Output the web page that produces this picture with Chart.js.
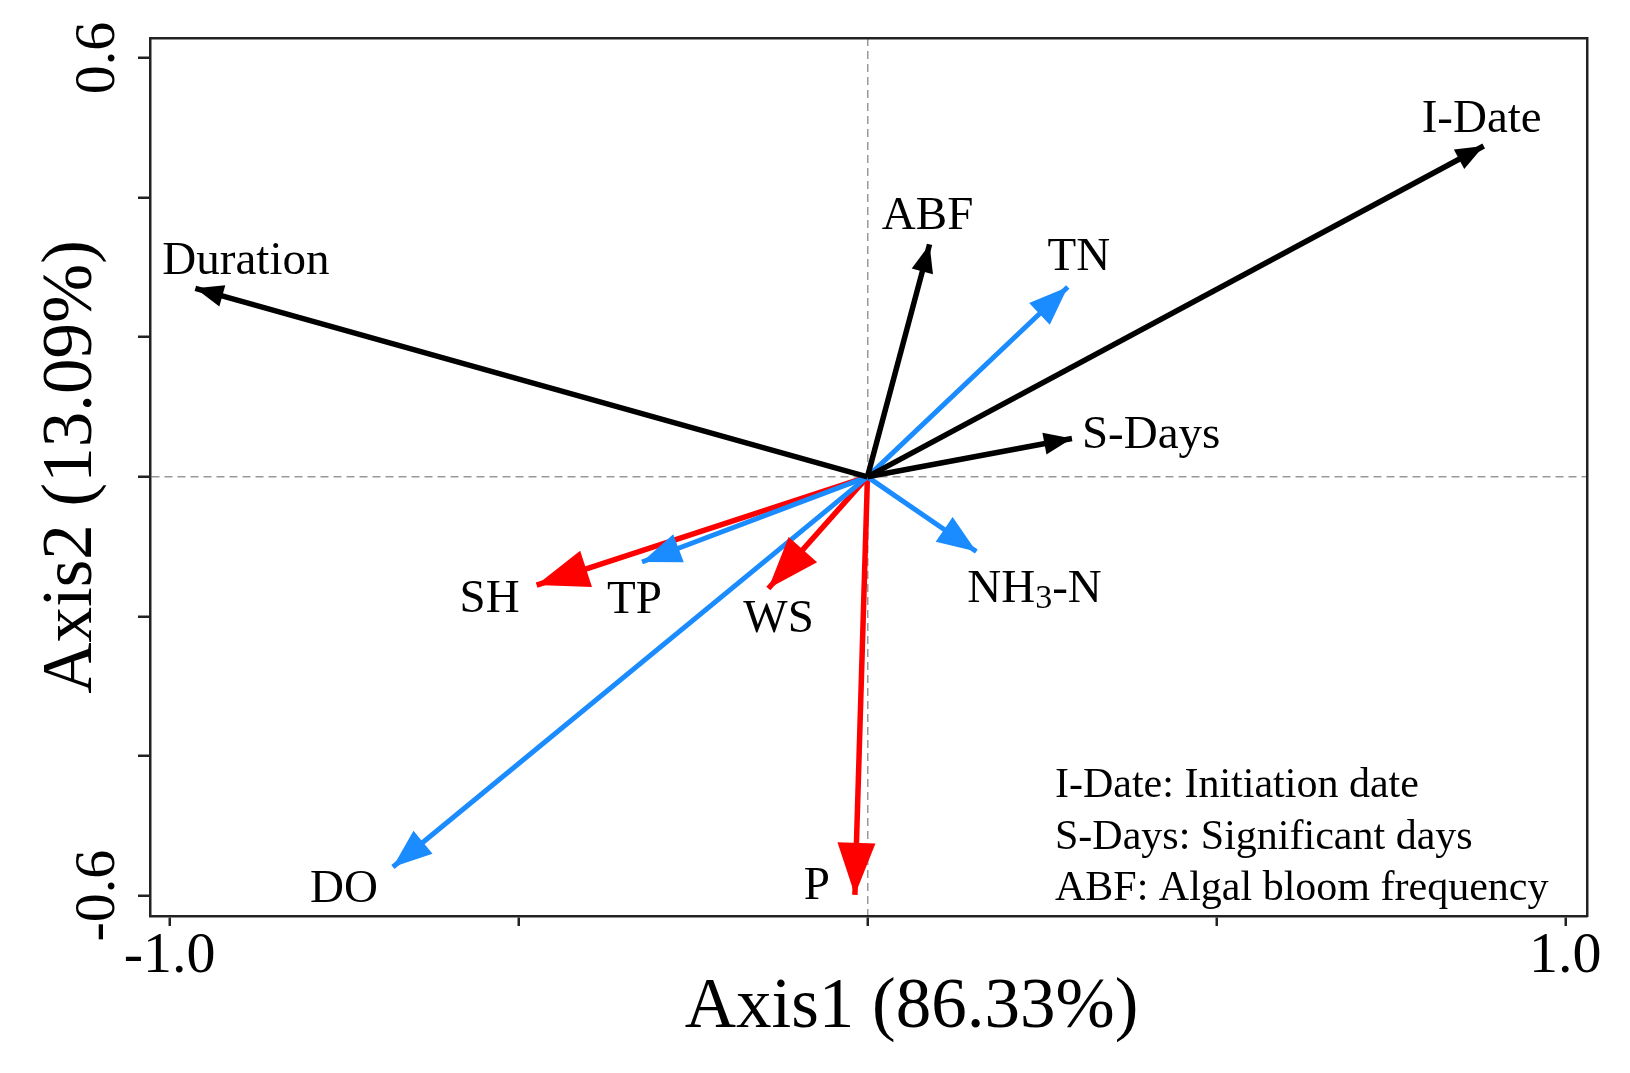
<!DOCTYPE html>
<html>
<head>
<meta charset="utf-8">
<script src="https://cdn.jsdelivr.net/npm/chart.js@4.4.0/dist/chart.umd.min.js"></script>
<style>
    html, body { margin: 0; padding: 0; background: #fff; }
    #wrap { width: 1630px; height: 1073px; }
</style>
</head>
<body>
<div id="wrap"><canvas id="rda" width="1630" height="1073"></canvas></div>
<script>
// RDA loadings
const variables = ["I-Date", "Duration", "ABF", "S-Days", "TN", "NH3-N", "TP", "DO", "SH", "WS", "P"];
const axis1 = [0.883, -0.963, 0.089, 0.293, 0.287, 0.156, -0.323, -0.680, -0.474, -0.142, -0.018];
const axis2 = [0.474, 0.270, 0.333, 0.055, 0.272, -0.107, -0.122, -0.559, -0.155, -0.160, -0.599];
const groups = ["bloom", "bloom", "bloom", "bloom", "water", "water", "water", "water", "weather", "weather", "weather"];

const xTickLabels = ["-1.0", "1.0"];
const yTickLabels = ["-0.6", "0.6"];
const xTitle = "Axis1 (86.33%)";
const yTitle = "Axis2 (13.09%)";
const notes = [
    "I-Date: Initiation date",
    "S-Days: Significant days",
    "ABF: Algal bloom frequency"
];

const serif = "'Liberation Serif', 'Times New Roman', serif";

const groupStyle = {
    bloom: { color: "#000000", width: 5.5, headLen: 28, headHalf: 11 },
    water: { color: "#1A8CFF", width: 5, headLen: 39, headHalf: 15 },
    weather: { color: "#FF0000", width: 5.5, headLen: 52, headHalf: 19 }
};

// where each label sits relative to its arrow tip (px, baseline)
const labelPlacement = {
    "I-Date": { align: "center", dx: -2, dy: -14 },
    "Duration": { align: "left", dx: -33, dy: -14 },
    "ABF": { align: "center", dx: -2, dy: -15 },
    "S-Days": { align: "left", dx: 10, dy: 10 },
    "TN": { align: "center", dx: 11, dy: -17 },
    "NH3-N": { align: "left", dx: -9, dy: 50 },
    "TP": { align: "left", dx: -35, dy: 51 },
    "DO": { align: "right", dx: -15, dy: 35 },
    "SH": { align: "right", dx: -17, dy: 27 },
    "WS": { align: "left", dx: -25, dy: 43 },
    "P": { align: "right", dx: -25, dy: 4 }
};

function tickText(value, labels) {
    const hit = labels.find(l => Math.abs(Number(l) - value) < 1e-6);
    return hit === undefined ? "" : hit;
}

function zeroOnly(c) {
    return c.tick && Math.abs(c.tick.value) < 1e-9 ? "#999999" : "rgba(0,0,0,0)";
}

function drawLabel(ctx, text, x, y, align) {
    const parts = text.split(/(\d+)/).filter(s => s.length);
    const main = `47px ${serif}`;
    const sub = `34px ${serif}`;
    const widths = parts.map(p => {
        ctx.font = /^\d+$/.test(p) ? sub : main;
        return ctx.measureText(p).width;
    });
    const total = widths.reduce((s, w) => s + w, 0);
    let cx = align === "left" ? x : align === "right" ? x - total : x - total / 2;
    ctx.textAlign = "left";
    parts.forEach((p, k) => {
        const isSub = /^\d+$/.test(p);
        ctx.font = isSub ? sub : main;
        ctx.fillText(p, cx, isSub ? y + 6 : y);
        cx += widths[k];
    });
}

const arrowHeads = {
    id: "arrowHeads",
    afterDatasetsDraw(chart) {
        const ctx = chart.ctx;
        for (let i = chart.data.datasets.length - 1; i >= 0; i--) {
            const meta = chart.getDatasetMeta(i);
            const a = meta.data[0];
            const b = meta.data[1];
            const st = groupStyle[groups[i]];
            const ang = Math.atan2(b.y - a.y, b.x - a.x);
            ctx.save();
            ctx.translate(b.x, b.y);
            ctx.rotate(ang);
            ctx.beginPath();
            ctx.moveTo(0, 0);
            ctx.lineTo(-st.headLen, -st.headHalf);
            ctx.lineTo(-st.headLen, st.headHalf);
            ctx.closePath();
            ctx.fillStyle = st.color;
            ctx.fill();
            ctx.restore();
        }
    }
};

const arrowLabels = {
    id: "arrowLabels",
    afterDatasetsDraw(chart) {
        const ctx = chart.ctx;
        ctx.save();
        ctx.fillStyle = "#000";
        ctx.textBaseline = "alphabetic";
        variables.forEach((name, i) => {
            const tip = chart.getDatasetMeta(i).data[1];
            const pl = labelPlacement[name];
            drawLabel(ctx, name, tip.x + pl.dx, tip.y + pl.dy, pl.align);
        });
        ctx.restore();
    }
};

const annotations = {
    id: "annotations",
    afterDraw(chart) {
        const { ctx, chartArea: ca } = chart;
        ctx.save();
        ctx.fillStyle = "#000";
        ctx.textBaseline = "alphabetic";
        ctx.font = `71px ${serif}`;
        ctx.textAlign = "center";
        ctx.fillText(xTitle, ca.left + 761.5, ca.bottom + 110.7);

        ctx.save();
        ctx.translate(ca.left - 59, (ca.top + ca.bottom) / 2 - 10);
        ctx.rotate(-Math.PI / 2);
        ctx.fillText(yTitle, 0, 0);
        ctx.restore();

        ctx.font = `42px ${serif}`;
        ctx.textAlign = "left";
        notes.forEach((t, k) => {
            ctx.fillText(t, ca.right - 532, ca.bottom - 119 + k * 51.5);
        });
        ctx.restore();
    }
};

const datasets = variables.map((name, i) => {
    const st = groupStyle[groups[i]];
    return {
        label: name,
        data: [{ x: 0, y: 0 }, { x: axis1[i], y: axis2[i] }],
        showLine: true,
        borderColor: st.color,
        backgroundColor: st.color,
        borderWidth: st.width,
        borderCapStyle: "butt",
        pointRadius: 0,
        pointHoverRadius: 0
    };
});

const xRange = { min: -1.028, max: 1.031 };
const yRange = { min: -0.6292, max: 0.6287 };

new Chart(document.getElementById("rda"), {
    type: "scatter",
    data: { datasets },
    options: {
        responsive: false,
        animation: false,
        events: [],
        layout: { padding: 0 },
        plugins: {
            legend: { display: false },
            tooltip: { enabled: false }
        },
        scales: {
            x: {
                type: "linear",
                position: "bottom",
                min: xRange.min,
                max: xRange.max,
                afterFit: s => { s.height = 157; },
                border: { display: true, color: "#222", width: 2.5, dash: [8, 5] },
                grid: {
                    color: zeroOnly,
                    lineWidth: 1.5,
                    drawTicks: true,
                    tickLength: 10,
                    tickColor: "#222",
                    tickWidth: 2.5
                },
                ticks: {
                    stepSize: 0.5,
                    includeBounds: false,
                    autoSkip: false,
                    maxRotation: 0,
                    padding: -4,
                    color: "#000",
                    font: { size: 58, family: serif },
                    callback: v => tickText(v, xTickLabels)
                }
            },
            y: {
                type: "linear",
                position: "left",
                min: yRange.min,
                max: yRange.max,
                afterFit: s => { s.width = 150; },
                border: { display: true, color: "#222", width: 2.5, dash: [8, 5] },
                grid: {
                    color: zeroOnly,
                    lineWidth: 1.5,
                    drawTicks: true,
                    tickLength: 12,
                    tickColor: "#222",
                    tickWidth: 2.5
                },
                ticks: {
                    stepSize: 0.2,
                    includeBounds: false,
                    autoSkip: false,
                    minRotation: 90,
                    maxRotation: 90,
                    crossAlign: "center",
                    padding: -7,
                    color: "#000",
                    font: { size: 58, family: serif },
                    callback: v => tickText(v, yTickLabels)
                }
            },
            x2: {
                type: "linear",
                position: "top",
                min: xRange.min,
                max: xRange.max,
                afterFit: s => { s.height = 38; },
                border: { display: true, color: "#222", width: 2.5 },
                grid: { display: false },
                ticks: { display: false }
            },
            y2: {
                type: "linear",
                position: "right",
                min: yRange.min,
                max: yRange.max,
                afterFit: s => { s.width = 43; },
                border: { display: true, color: "#222", width: 2.5 },
                grid: { display: false },
                ticks: { display: false }
            }
        }
    },
    plugins: [arrowHeads, arrowLabels, annotations]
});
</script>
</body>
</html>
